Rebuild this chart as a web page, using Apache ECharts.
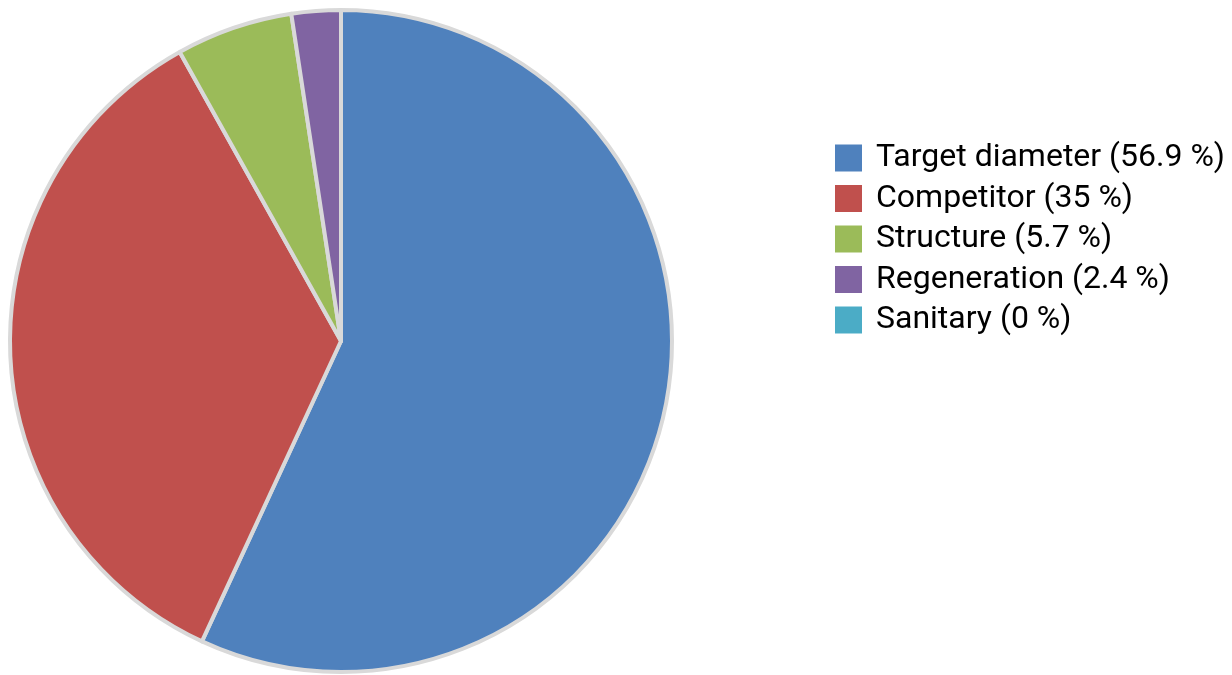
<!DOCTYPE html>
<html>
<head>
<meta charset="utf-8">
<style>html,body{margin:0;padding:0;background:#fff;}#chart{width:1232px;height:675px;}</style>
<script src="https://cdn.jsdelivr.net/npm/echarts@6/dist/echarts.min.js"></script>
</head>
<body>
<div id="chart"></div>
<script>
var categories = ['Target diameter', 'Competitor', 'Structure', 'Regeneration', 'Sanitary'];
var values = [56.9, 35, 5.7, 2.4, 0];
var colors = ['#4f81bd', '#c0504d', '#9bbb59', '#8064a2', '#4bacc6'];

var chart = echarts.init(document.getElementById('chart'));
var data = categories.map(function (c, i) {
  return { name: c, value: values[i], itemStyle: { color: colors[i] } };
});
chart.setOption({
  animation: false,
  legend: {
    orient: 'vertical',
    left: 835,
    top: 142,
    padding: 0,
    itemWidth: 27,
    itemHeight: 27,
    itemGap: 8.5,
    icon: 'rect',
    itemStyle: { borderWidth: 0 },
    formatter: function (name) {
      var i = categories.indexOf(name);
      return name + ' (' + values[i] + ' %)';
    },
    textStyle: { fontFamily: 'Roboto', fontSize: 32, lineHeight: 27, color: '#000', padding: [0, 0, 0, 9] }
  },
  series: [{
    type: 'pie',
    center: [341, 341],
    radius: [0, 331],
    startAngle: 90,
    clockwise: true,
    label: { show: false },
    labelLine: { show: false },
    emphasis: { disabled: true },
    itemStyle: { borderColor: '#d9d9d9', borderWidth: 4 },
    data: data
  }]
});
</script>
</body>
</html>
